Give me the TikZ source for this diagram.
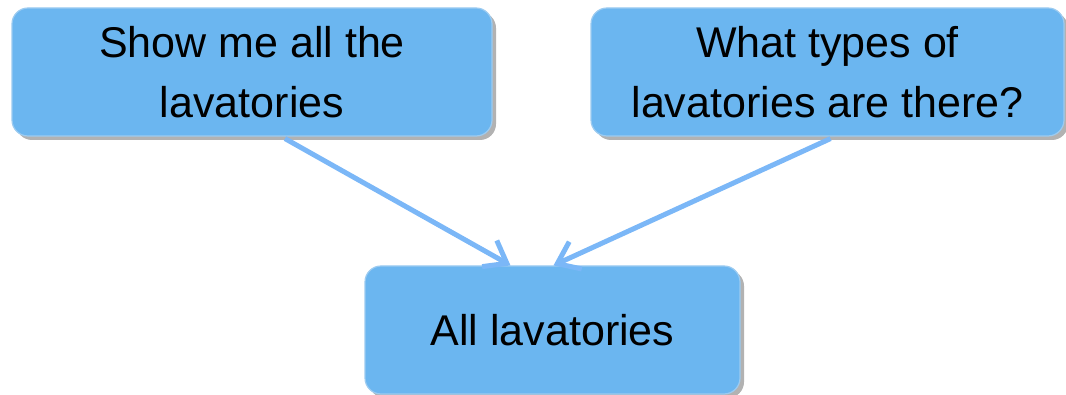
\documentclass[tikz,border=0pt]{standalone}
\usepackage{fontspec}
\setmainfont{Liberation Sans}
\usetikzlibrary{arrows.meta,shadows,calc}
\definecolor{boxfill}{HTML}{6BB6F0}
\definecolor{boxline}{HTML}{9CCBF0}
\definecolor{linkblue}{HTML}{7BB7F7}
\tikzset{
  qbox/.style={draw=boxline, line width=1.2pt, fill=boxfill, rounded corners=16pt,
    align=center, inner sep=0pt,
    font=\fontsize{43pt}{60pt}\selectfont,
    drop shadow={shadow xshift=4pt, shadow yshift=-4pt, fill=black, opacity=0.3}},
  link/.style={draw=linkblue, line width=5pt,
    -{Straight Barb[length=20pt,width=30pt,line width=5pt]}}
}
\begin{document}
\begin{tikzpicture}[x=1pt,y=-1pt]
  \useasboundingbox (0,0) rectangle (1066,395);
  \node[qbox, minimum width=480pt, minimum height=128pt] (b1) at (252,72)
    {Show me all the\\lavatories};
  \node[qbox, minimum width=473pt, minimum height=128pt] (b2) at (827.5,72)
    {What types of\\lavatories are there?};
  \node[qbox, minimum width=375pt, minimum height=128pt] (b3) at (552.5,330)
    {All lavatories};
  \draw[link] ([xshift=33pt,yshift=-2pt]b1.south) -- ([xshift=-42pt]b3.north);
  \draw[link] ([xshift=3pt,yshift=-2pt]b2.south) -- ([xshift=1pt]b3.north);
\end{tikzpicture}
\end{document}
